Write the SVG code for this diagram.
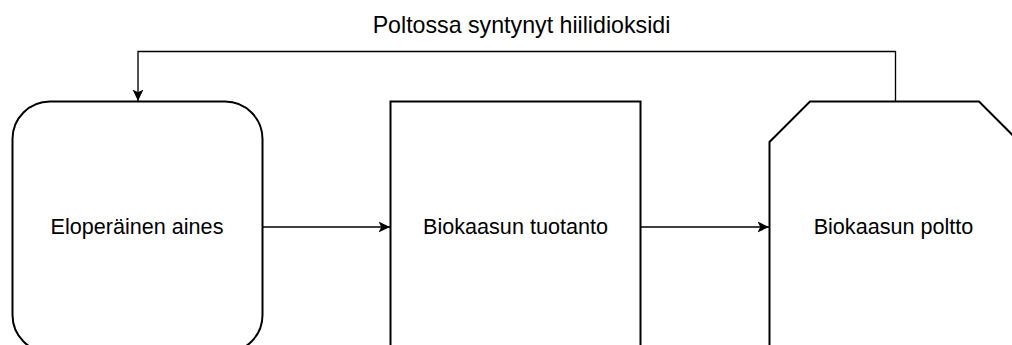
<svg xmlns="http://www.w3.org/2000/svg" width="1012" height="345" viewBox="0 0 1012 345">
<style>
.node{fill:#ffffff;stroke:#000000;stroke-width:2}
.lbl{font-family:"Liberation Sans",Arial,sans-serif;font-size:21.6px;fill:#000000;text-anchor:middle}
.elbl{font-size:23.2px}
.edge{fill:none;stroke:#000000;stroke-width:1.35}
</style>
<defs>
<marker id="arr" markerUnits="userSpaceOnUse" markerWidth="12" markerHeight="12" refX="10.5" refY="5" orient="auto" viewBox="0 0 11 10">
<path d="M0,0 L10.5,5 L0,10 L2.5,5 z" fill="#000000"/>
</marker>
</defs>
<rect width="1012" height="345" fill="#ffffff"/>
<g id="connectors">
<path class="edge" d="M262.5,227 L390,227" marker-end="url(#arr)"/>
<path class="edge" d="M640.5,227 L769,227" marker-end="url(#arr)"/>
<path class="edge" d="M895.5,101.5 L895.5,51.5 L138,51.5 L138,101" marker-end="url(#arr)"/>
<text class="lbl elbl" x="521.5" y="33">Poltossa syntynyt hiilidioksidi</text>
</g>
<g id="node-eloperainen">
<rect class="node" x="12.5" y="101.5" width="250" height="251" rx="37.5" ry="37.5"/>
<text class="lbl" x="137" y="233.5">Eloperäinen aines</text>
</g>
<g id="node-tuotanto">
<rect class="node" x="390.5" y="101.5" width="250" height="260"/>
<text class="lbl" x="515.5" y="233.5">Biokaasun tuotanto</text>
</g>
<g id="node-poltto">
<path class="node" d="M810,101.5 L979,101.5 L1019.5,142 L1019.5,360 L979,400 L810,400 L769.5,360 L769.5,142 Z"/>
<text class="lbl" x="893.5" y="233.5">Biokaasun poltto</text>
</g>
</svg>
